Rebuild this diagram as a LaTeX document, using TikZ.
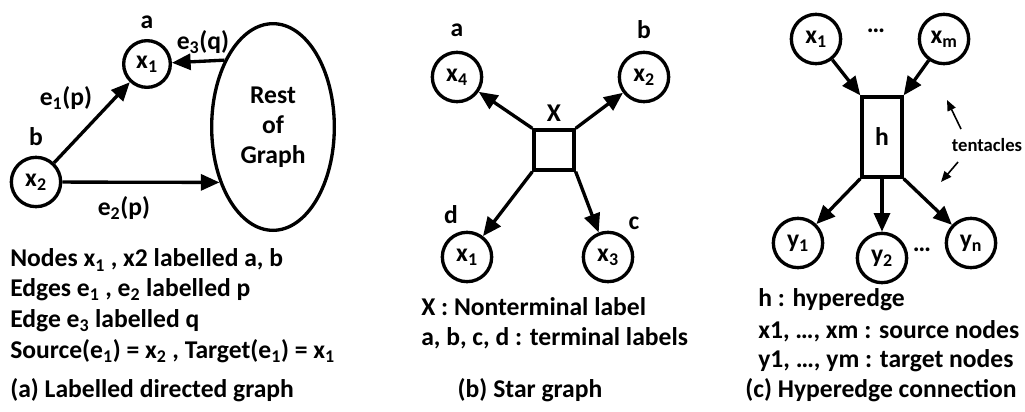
\documentclass[tikz,border=0pt]{standalone}
\usepackage{fontspec}
\setmainfont{Carlito}
\usetikzlibrary{arrows.meta,shapes.geometric}
\begin{document}
\begin{tikzpicture}[x=0.75pt,y=-0.75pt,
  every node/.style={font=\fontsize{19.2}{22.5}\selectfont\bfseries},
  vtx/.style={circle,draw,line width=2.5pt,minimum size=37pt,inner sep=0pt},
  conn/.style={line width=2.5pt,-{Triangle[length=14pt,width=12pt]}},
  pointer/.style={line width=1.2pt,-{Triangle[length=8pt,width=6.5pt]}},
  txt/.style={anchor=west,inner sep=0pt},
  lbl/.style={inner sep=0pt}]
\useasboundingbox (0,0) rectangle (1025,411);

% ---------- (a) labelled directed graph ----------
\node[vtx,minimum size=35pt] (a1) at (147,64) {x\textsubscript{1}};
\node[vtx] (a2) at (36,182) {x\textsubscript{2}};
\node[ellipse,draw,line width=2.5pt,minimum width=92pt,minimum height=155pt,
      align=center,inner sep=0pt] (rest) at (273,127) {Rest\\of\\Graph};
\node[lbl] (la) at (147,22) {a};
\node[lbl] (lb) at (36,137) {b};
\node[lbl] (le1) at (66,98) {e\textsubscript{1}(p)};
\node[lbl] (le2) at (124,208) {e\textsubscript{2}(p)};
\node[lbl] (le3) at (203,42) {e\textsubscript{3}(q)};
\draw[conn] (a2) -- (a1);
\draw[conn] (a2) -- (rest.226);
\draw[conn] (rest.126) -- (a1);

\node[txt] (ta1) at (10,260) {Nodes x\textsubscript{1} , x2 labelled a, b};
\node[txt] (ta2) at (10,290) {Edges e\textsubscript{1} , e\textsubscript{2} labelled p};
\node[txt] (ta3) at (10,321) {Edge e\textsubscript{3} labelled q};
\node[txt] (ta4) at (10,351) {Source(e\textsubscript{1}) = x\textsubscript{2} , Target(e\textsubscript{1}) = x\textsubscript{1}};
\node[txt] (capa) at (10,390) {(a) Labelled directed graph};

% ---------- (b) star graph ----------
\node[vtx] (b4) at (457,77) {x\textsubscript{4}};
\node[vtx] (b2) at (644,77) {x\textsubscript{2}};
\node[vtx] (b1) at (467,257) {x\textsubscript{1}};
\node[vtx] (b3) at (608,257) {x\textsubscript{3}};
\node[draw,line width=2.5pt,minimum size=30pt,inner sep=0pt] (bx) at (554,150) {};
\node[lbl] (lba) at (457,30) {a};
\node[lbl] (lbb) at (644,30) {b};
\node[lbl] (lbX) at (554,113) {X};
\node[lbl] (lbd) at (451,215) {d};
\node[lbl] (lbc) at (634,223) {c};
\draw[conn] (bx.north west) -- (b4);
\draw[conn] (bx.north east) -- (b2);
\draw[conn] (bx.south west) -- (b1);
\draw[conn] (bx.south east) -- (b3);

\node[txt] (tb1) at (421,307) {X : Nonterminal label};
\node[txt] (tb2) at (421,338) {a, b, c, d : terminal labels};
\node[lbl] (capb) at (530,390) {(b) Star graph};

% ---------- (c) hyperedge connection ----------
\node[vtx] (c1) at (816,39) {x\textsubscript{1}};
\node[vtx] (cm) at (944,39) {x\textsubscript{m}};
\node[lbl] (cdots1) at (876,31) {…};
\node[draw,line width=2.5pt,minimum width=30pt,minimum height=60pt,inner sep=0pt] (h) at (882,137) {h};
\node[vtx] (y1) at (798,243) {y\textsubscript{1}};
\node[vtx] (y2) at (882,258) {y\textsubscript{2}};
\node[vtx] (yn) at (971,243) {y\textsubscript{n}};
\node[lbl] (cdots2) at (922,250) {…};
\draw[conn] (c1) -- (h.north west);
\draw[conn] (cm) -- (h.north east);
\draw[conn] (h.south west) -- (y1);
\draw[conn] (h.south) -- (y2);
\draw[conn] (h.south east) -- (yn);

\node[lbl,font=\fontsize{14}{16}\selectfont\bfseries] (tent) at (987,145) {tentacles};
\coordinate (p1s) at (961,129);
\coordinate (p1e) at (947,100);
\coordinate (p2s) at (958,162);
\coordinate (p2e) at (941,182);
\draw[pointer] (p1s) -- (p1e);
\draw[pointer] (p2s) -- (p2e);

\node[txt] (tc1) at (758,300) {h : hyperedge};
\node[txt] (tc2) at (758,331) {x1, …, xm : source nodes};
\node[txt] (tc3) at (758,361) {y1, …, ym : target nodes};
\node[lbl] (capc) at (881,390) {(c) Hyperedge connection};
\end{tikzpicture}
\end{document}
